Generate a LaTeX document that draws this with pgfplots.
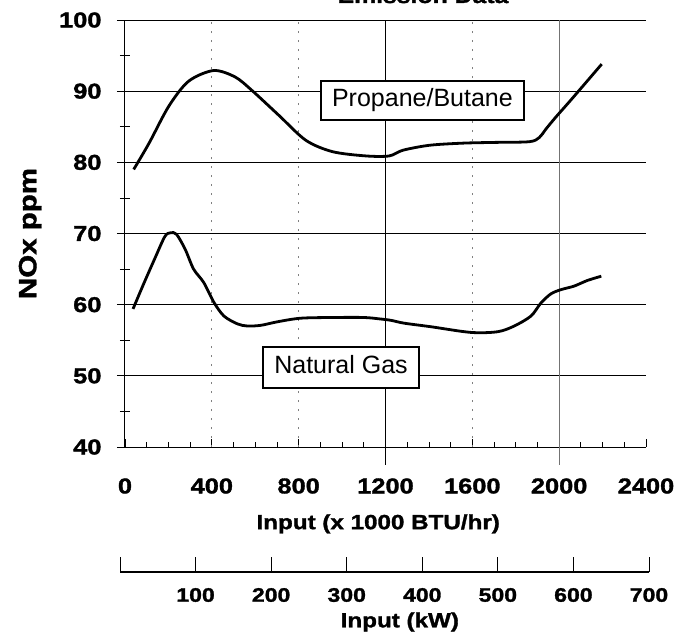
\documentclass[border=0pt]{standalone}
\usepackage{fontspec}
\setmainfont{Liberation Sans}
\newfontfamily\blk{Liberation Sans}[FakeStretch=1.18, FakeBold=1.5]
\usepackage{pgfplots}
\pgfplotsset{compat=1.18}
\newcommand{\tickfont}{\blk\bfseries\fontsize{21.5}{21.5}\selectfont}
\begin{document}
\begin{tikzpicture}
\begin{axis}[
  at={(0pt,0pt)}, anchor=south west,
  scale only axis, width=521pt, height=427pt,
  xmin=0, xmax=2400, ymin=40, ymax=100,
  xtick={0,400,...,2400}, ytick={40,50,...,100},
  minor x tick num=3, minor y tick num=1,
  axis x line*=bottom, axis y line*=left,
  axis line style={line width=1pt, black},
  ymajorgrids, major grid style={black, line width=0.9pt},
  tick style={black, line width=0.8pt},
  major tick length=8pt, minor tick length=5pt,
  ytick align=outside, xtick align=inside,
  /pgf/number format/assume math mode=true,
  /pgf/number format/1000 sep={},
  ticklabel style={font=\tickfont},
  yticklabel style={anchor=east, xshift=-12pt},
  xticklabel style={anchor=center, yshift=-39pt},
  every axis x label/.style={at={(axis description cs:0.486,-0.180)}, anchor=center},
  every axis y label/.style={at={(axis description cs:-0.182,0.5)}, anchor=center, rotate=90},
  xlabel={\blk\bfseries\fontsize{20.5}{20.5}\selectfont Input (x 1000 BTU/hr)},
  ylabel={\blk\bfseries\fontsize{25}{25}\selectfont NOx ppm},
  clip=false,
]
% vertical grid lines
\addplot[black, line width=0.9pt] coordinates {(1200,37.5) (1200,100)};
\addplot[black!55, line width=1pt] coordinates {(2000,37.5) (2000,100)};
\addplot[black!50, line width=0.8pt, dash pattern=on 2pt off 7pt] coordinates {(400,40) (400,100)};
\addplot[black!50, line width=0.8pt, dash pattern=on 2pt off 7pt] coordinates {(800,40) (800,100)};
\addplot[black!50, line width=0.8pt, dash pattern=on 2pt off 7pt] coordinates {(1600,40) (1600,100)};
% minor y ticks on the inside
\addplot[black, line width=0.8pt] coordinates {(0,95) (25,95)};
\addplot[black, line width=0.8pt] coordinates {(0,85) (25,85)};
\addplot[black, line width=0.8pt] coordinates {(0,75) (25,75)};
\addplot[black, line width=0.8pt] coordinates {(0,65) (25,65)};
\addplot[black, line width=0.8pt] coordinates {(0,55) (25,55)};
\addplot[black, line width=0.8pt] coordinates {(0,45) (25,45)};
% Propane/Butane
\addplot[black, line width=2.8pt, smooth, tension=0.5] coordinates {
(40,79.0) (111,82.7) (202,87.9) (293,91.4) (408,92.9) (507,92.0) (585,90.1)
(709,86.6) (833,83.1) (956,81.5) (1110,80.9) (1217,80.9) (1280,81.7)
(1403,82.4) (1558,82.7) (1700,82.8) (1863,82.9) (1909,83.5) (1937,84.6)
(1983,86.3) (2058,88.9) (2196,93.8)};
% Natural Gas
\addplot[black, line width=2.8pt, smooth, tension=0.5] coordinates {
(37,59.4) (87,63.0) (139,66.6) (184,69.6) (210,70.1) (237,69.9) (277,67.8)
(316,65.0) (363,63.1) (410,60.3) (456,58.4) (518,57.3) (564,57.0) (626,57.1)
(703,57.6) (810,58.1) (963,58.2) (1100,58.2) (1173,58.0) (1225,57.8)
(1286,57.4) (1409,56.9) (1594,56.1) (1717,56.2) (1793,57.0) (1870,58.4)
(1915,60.2) (1961,61.5) (2007,62.1) (2068,62.6) (2130,63.4) (2194,64.0)};
\node[draw=black, line width=2pt, fill=white, inner xsep=11pt, inner ysep=8pt,
  text height=18pt, text depth=5pt, font=\fontsize{25}{25}\selectfont]
  at (axis cs:1370,88.7) {Propane/Butane};
\node[draw=black, line width=2pt, fill=white, inner xsep=11pt, inner ysep=9pt,
  text height=18pt, text depth=5pt, font=\fontsize{25}{25}\selectfont]
  at (axis cs:995,51.2) {Natural Gas};
\end{axis}
\begin{axis}[
  at={(-5pt,-125pt)}, anchor=south west,
  scale only axis, width=529pt, height=20pt,
  xmin=0, xmax=700, ymin=0, ymax=1,
  axis x line*=bottom, axis y line=none,
  axis line style={line width=1.2pt, black},
  xtick={0,100,...,700}, xticklabels={,100,200,300,400,500,600,700},
  xtick align=inside, major tick length=15pt,
  tick style={black, line width=1pt},
  /pgf/number format/assume math mode=true,
  ticklabel style={font=\blk\bfseries\fontsize{19.5}{19.5}\selectfont},
  xticklabel style={anchor=center, yshift=-23pt},
  every axis x label/.style={at={(axis description cs:0.529,-2.5)}, anchor=center},
  xlabel={\blk\bfseries\fontsize{20.5}{20.5}\selectfont Input (kW)},
]
\end{axis}
\node[anchor=base, font=\blk\bfseries\fontsize{21}{21}\selectfont] at (298pt,444pt) {Emission Data};
\pgfresetboundingbox
\useasboundingbox (-125pt,-194pt) rectangle (566pt,447pt);
\end{tikzpicture}
\end{document}
